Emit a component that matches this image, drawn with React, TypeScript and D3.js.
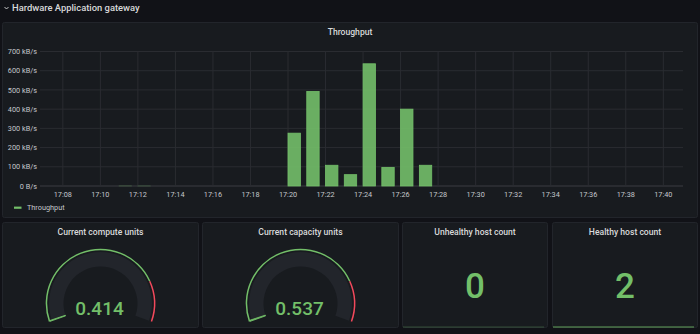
import React from "react";
import * as d3 from "d3";

const W = 700;
const H = 334;

// Throughput data (minutes after 17:00, kB/s)
const minutes = [7, 8, 9, 10, 11, 12, 13, 14, 15, 16, 17, 18, 19, 20, 21, 22, 23, 24, 25, 26, 27];
const throughput = [0, 0, 0, 0, 0.6, 0.4, 0, 0, 0, 0, 0, 0, 0, 275, 492, 108, 59, 636, 97, 400, 108];
const yTicks = [0, 100, 200, 300, 400, 500, 600, 700];
const xTickMinutes = [8, 10, 12, 14, 16, 18, 20, 22, 24, 26, 28, 30, 32, 34, 36, 38, 40];

const gaugeTitles = ["Current compute units", "Current capacity units"];
const gaugeValues = [0.414, 0.537];
const gaugeMax = 100;
const gaugeThreshold = 80;

const statTitles = ["Unhealthy host count", "Healthy host count"];
const statValues = [0, 2];

const BG = "#111217";
const PANEL = "#181b1f";
const BORDER = "#22252b";
const GREEN = "#73BF69";
const RED = "#F2495C";
const TEXT = "#d8d9da";
const AXIS = "#c4c7cc";
const FONT = "Roboto, 'Noto Sans', sans-serif";

const t = (m: number, s = 0) => new Date(2023, 0, 1, 17, m, s);

function Panel({ x, y, w, h }: { x: number; y: number; w: number; h: number }) {
  return <rect x={x + 0.5} y={y + 0.5} width={w - 1} height={h - 1} rx={2} fill={PANEL} stroke={BORDER} strokeWidth={1} />;
}

function Gauge({ cx, cy, value, title, px, pw }: { cx: number; cy: number; value: number; title: string; px: number; pw: number }) {
  const a0 = (-109.5 * Math.PI) / 180;
  const a1 = (109.5 * Math.PI) / 180;
  const ang = d3.scaleLinear().domain([0, gaugeMax]).range([a0, a1]);
  const thin = d3.arc<any>().innerRadius(53.3).outerRadius(54.8);
  const track = d3.arc<any>().innerRadius(37).outerRadius(51.5);
  return (
    <g>
      <text x={px + pw / 2} y={235} textAnchor="middle" fill={TEXT} fontSize={8.6} fontWeight={500} fontFamily={FONT}>
        {title}
      </text>
      <g transform={`translate(${cx},${cy})`}>
        <path d={thin({ startAngle: a0, endAngle: ang(gaugeThreshold) }) || ""} fill={GREEN} />
        <path d={thin({ startAngle: ang(gaugeThreshold), endAngle: a1 }) || ""} fill={RED} />
        <path d={track({ startAngle: a0, endAngle: a1 }) || ""} fill="#22252b" />
        <path
          d={d3.arc<any>().innerRadius(37).outerRadius(53.5)({ startAngle: a0, endAngle: ang(value) }) || ""}
          fill={GREEN}
          stroke={GREEN}
          strokeWidth={0.9}
        />
      </g>
      <text x={cx - 1} y={315} textAnchor="middle" fill={GREEN} fontSize={19} fontWeight={500} fontFamily={FONT}>
        {value.toFixed(3)}
      </text>
    </g>
  );
}

export default function App() {
  const plotL = 40;
  const plotR = 683;
  const plotT = 51.5;
  const plotB = 186;
  const x = d3.scaleTime().domain([t(6, 47), t(41, 3)]).range([plotL, plotR]);
  const y = d3.scaleLinear().domain([0, 700]).range([plotB, plotT]);
  const minW = x(t(1)) - x(t(0));
  const barW = minW * 0.66;
  const fmt = d3.timeFormat("%H:%M");
  const yFmt = (v: number) => (v === 0 ? "0 B/s" : `${v} kB/s`);

  const panels = [
    { x: 2, y: 222, w: 197, h: 106 },
    { x: 202, y: 222, w: 197, h: 106 },
    { x: 402, y: 222, w: 146, h: 106 },
    { x: 552, y: 222, w: 146, h: 106 },
  ];

  return (
    <svg width={W} height={H} style={{ position: "fixed", left: 0, top: 0, display: "block" }}>
      <rect x={0} y={0} width={W} height={H} fill={BG} />
      {/* Row header */}
      <path d="M4.5,7 L6.5,9 L8.5,7" fill="none" stroke={TEXT} strokeWidth={0.9} />
      <text x={12} y={11.3} fill={TEXT} fontSize={9.4} fontWeight={500} fontFamily={FONT}>
        Hardware Application gateway
      </text>

      {/* Throughput panel */}
      <Panel x={2} y={22} w={696} h={196} />
      <text x={350} y={35} textAnchor="middle" fill={TEXT} fontSize={8.6} fontWeight={500} fontFamily={FONT}>
        Throughput
      </text>
      {yTicks.map((v) => (
        <g key={v}>
          <line x1={plotL} x2={plotR} y1={y(v)} y2={y(v)} stroke={v === 0 ? "#3a3d42" : "#2a2c31"} strokeWidth={1} />
          <text x={37} y={y(v) + 2.6} textAnchor="end" fill={AXIS} fontSize={7.3} fontFamily={FONT}>
            {yFmt(v)}
          </text>
        </g>
      ))}
      {xTickMinutes.map((m) => (
        <g key={m}>
          <line x1={x(t(m))} x2={x(t(m))} y1={plotT} y2={plotB} stroke="#2a2c31" strokeWidth={1} />
          <text x={x(t(m))} y={196.6} textAnchor="middle" fill={AXIS} fontSize={7.3} fontFamily={FONT}>
            {fmt(t(m))}
          </text>
        </g>
      ))}
      {minutes.map((m, i) => {
        const v = throughput[i];
        if (v <= 0) return null;
        const x0 = x(t(m));
        const small = v < 5;
        return (
          <rect
            key={m}
            x={x0}
            y={y(v)}
            width={barW}
            height={plotB - y(v)}
            fill={GREEN}
            fillOpacity={small ? 0.3 : 0.9}
            stroke={GREEN}
            strokeOpacity={small ? 0.3 : 1}
            strokeWidth={0.8}
          />
        );
      })}
      {/* Legend */}
      <line x1={14} x2={21.5} y1={207.7} y2={207.7} stroke={GREEN} strokeWidth={2.2} />
      <text x={27} y={209.5} fill={AXIS} fontSize={7.3} fontFamily={FONT}>
        Throughput
      </text>

      {/* Bottom panels */}
      {panels.map((p, i) => (
        <Panel key={i} {...p} />
      ))}
      {gaugeValues.map((v, i) => (
        <Gauge
          key={i}
          cx={panels[i].x + panels[i].w / 2}
          cy={303.5}
          value={v}
          title={gaugeTitles[i]}
          px={panels[i].x}
          pw={panels[i].w}
        />
      ))}
      {statValues.map((v, i) => {
        const p = panels[i + 2];
        return (
          <g key={i}>
            <text x={p.x + p.w / 2} y={235} textAnchor="middle" fill={TEXT} fontSize={8.6} fontWeight={500} fontFamily={FONT}>
              {statTitles[i]}
            </text>
            <text x={p.x + p.w / 2} y={297.8} textAnchor="middle" fill={GREEN} fontSize={35} fontWeight={500} fontFamily={FONT}>
              {v}
            </text>
            <line
              x1={p.x + 1}
              x2={p.x + p.w - 4}
              y1={327}
              y2={327}
              stroke={GREEN}
              strokeOpacity={v === 0 ? 0.3 : 0.8}
              strokeWidth={1.2}
            />
          </g>
        );
      })}
    </svg>
  );
}
